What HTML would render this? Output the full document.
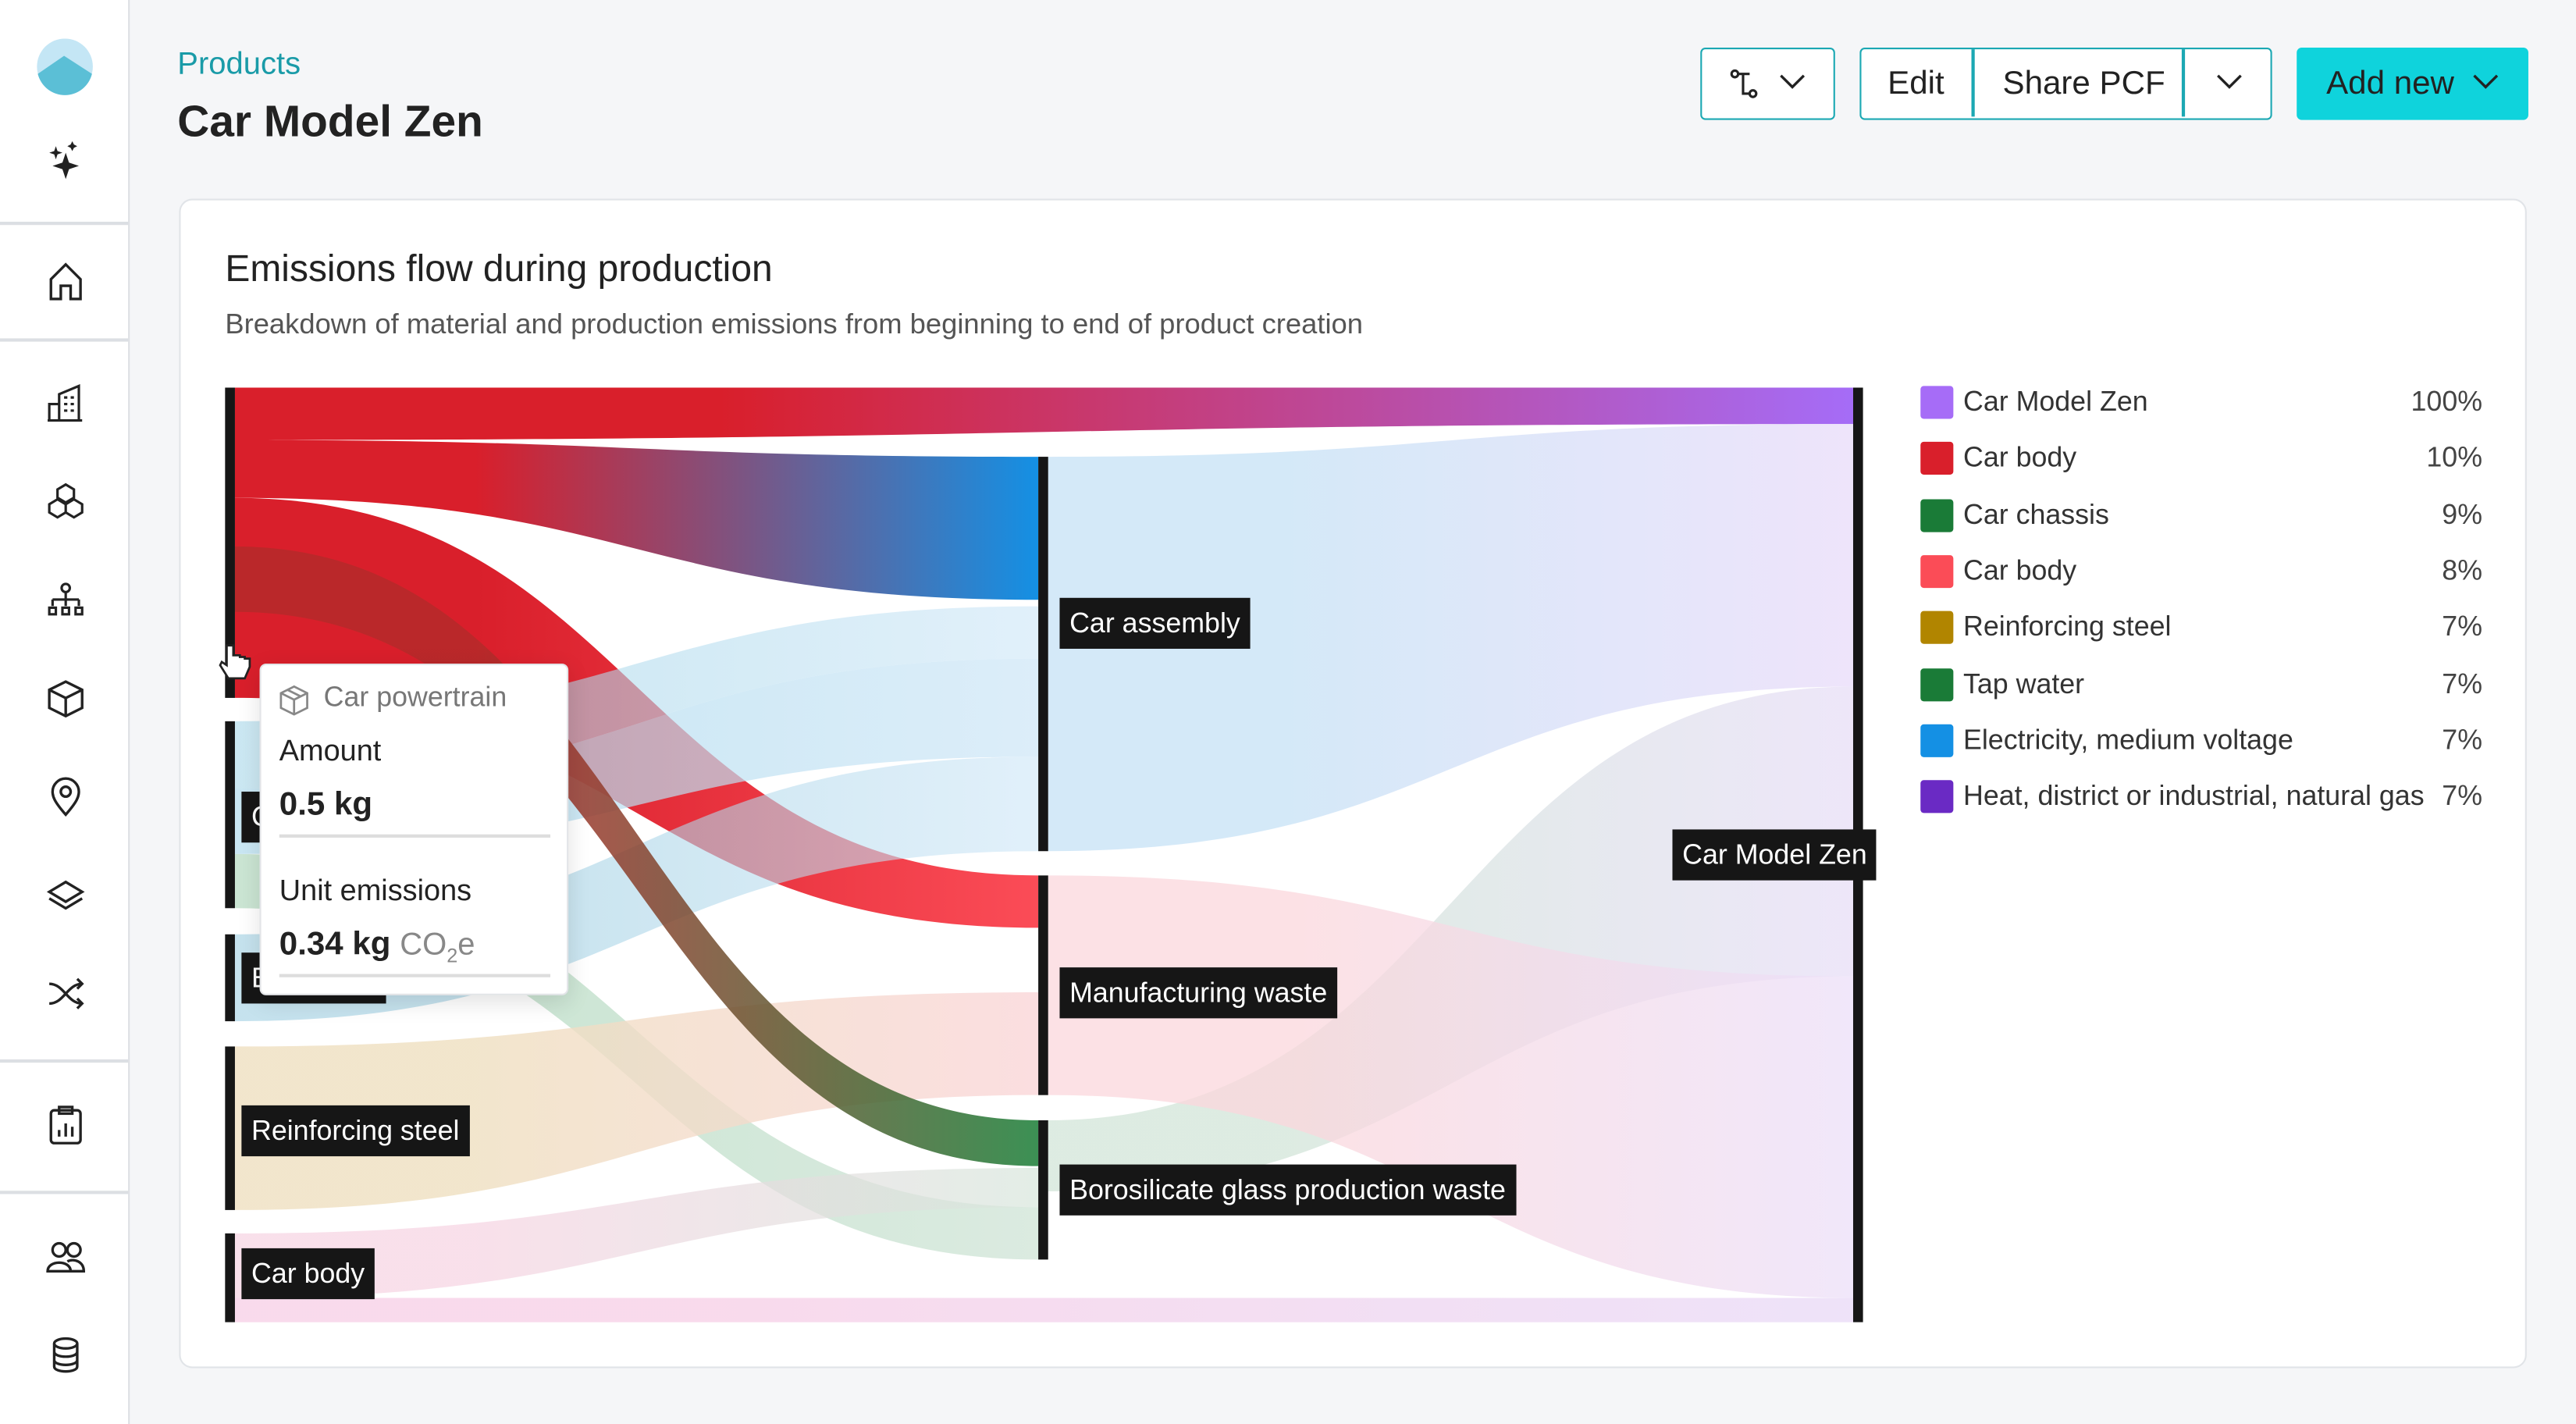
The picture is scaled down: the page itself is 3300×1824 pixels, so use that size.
<!DOCTYPE html>
<html><head><meta charset="utf-8">
<style>
html,body{margin:0;padding:0;width:3300px;height:1824px;overflow:hidden;background:#f5f6f8;font-family:"Liberation Sans",sans-serif;}
#stage{position:absolute;left:0;top:0;width:1568px;height:867px;transform:scale(2.10459,2.10381);transform-origin:0 0;background:#f5f6f8;color:#1e1e1e;}
.abs{position:absolute;}
#sidebar{left:0;top:0;width:78px;height:867px;background:#fff;border-right:1.5px solid #dcdfe3;}
.div{position:absolute;left:0;width:78px;height:1.5px;background:#dcdfe3;}
.ico{position:absolute;left:27px;width:26px;height:26px;}
.btn{position:absolute;top:29px;height:44px;box-sizing:border-box;border:1.5px solid #1ba8b3;background:#fff;border-radius:3px;font-size:20px;color:#222;}
.btn span{position:absolute;top:10px;}
#card{left:109px;top:121px;width:1429px;height:712px;background:#fff;border:1.5px solid #e1e4e8;border-radius:8px;box-sizing:border-box;}
.lbl{position:absolute;background:#161616;color:#fff;font-size:17px;height:31px;line-height:31px;padding:0 6px;white-space:nowrap;}
.leg{position:absolute;left:1169px;height:20px;width:342px;font-size:17px;color:#333;}
.leg .sw{position:absolute;left:0;top:0;width:20px;height:20px;border-radius:2px;}
.leg .t{position:absolute;left:26px;top:0;line-height:20px;}
.leg .p{position:absolute;right:0;top:0;line-height:20px;color:#444;}
</style></head><body>
<div id="stage">
<div id="sidebar" class="abs">
  <svg class="abs" style="left:22px;top:23px" width="35" height="35" viewBox="0 0 35 35"><circle cx="17.5" cy="17.5" r="17" fill="#c4e6f5"/><path d="M1 22 L17 11 L34 22 A17 17 0 0 1 1 22Z" fill="#5bbfd6"/></svg>
  <svg class="ico" style="top:84px" viewBox="0 0 26 26"><path d="M13 9 L15 15 L21 17 L15 19 L13 25 L11 19 L5 17 L11 15Z M7 5 L8 8 L11 9 L8 10 L7 13 L6 10 L3 9 L6 8Z M17 2 L18 4 L20 5 L18 6 L17 8 L16 6 L14 5 L16 4Z" fill="#222"/></svg>
  <div class="div" style="top:135px"></div>
  <svg class="ico" style="top:158px" viewBox="0 0 26 26" fill="none" stroke="#222" stroke-width="1.6"><path d="M4 12 L13 3 L22 12 V24 H16 V16 H10 V24 H4Z"/></svg>
  <div class="div" style="top:206px"></div>
  <svg class="ico" style="top:232px" viewBox="0 0 26 26" fill="none" stroke="#222" stroke-width="1.5"><path d="M3 24 V14 H9 V24 M9 24 V8 L21 3 V24 M2 24 H23 M12 10h2 M16 10h2 M12 14h2 M16 14h2 M12 18h2 M16 18h2"/></svg>
  <svg class="ico" style="top:292px" viewBox="0 0 26 26" fill="none" stroke="#222" stroke-width="1.5"><path d="M13 3 L18 6 V11 L13 14 L8 11 V6Z M8 12 L13 15 V20 L8 23 L3 20 V15Z M18 12 L23 15 V20 L18 23 L13 20 V15Z"/></svg>
  <svg class="ico" style="top:352px" viewBox="0 0 26 26" fill="none" stroke="#222" stroke-width="1.5"><circle cx="13" cy="6" r="2.5"/><path d="M13 9 V13 M5 13 H21 M5 13 V17 M13 13 V17 M21 13 V17"/><rect x="3" y="18" width="4" height="4"/><rect x="11" y="18" width="4" height="4"/><rect x="19" y="18" width="4" height="4"/></svg>
  <svg class="ico" style="top:412px" viewBox="0 0 26 26" fill="none" stroke="#222" stroke-width="1.6"><path d="M13 3 L23 8 V19 L13 24 L3 19 V8Z M3 8 L13 13 L23 8 M13 13 V24"/></svg>
  <svg class="ico" style="top:472px" viewBox="0 0 26 26" fill="none" stroke="#222" stroke-width="1.6"><path d="M13 24 C6 16 5 13 5 10 A8 8 0 0 1 21 10 C21 13 20 16 13 24Z"/><circle cx="13" cy="10" r="3"/></svg>
  <svg class="ico" style="top:532px" viewBox="0 0 26 26" fill="none" stroke="#222" stroke-width="1.6"><path d="M13 5 L23 11 L13 17 L3 11Z M3 15 L13 21 L23 15"/></svg>
  <svg class="ico" style="top:592px" viewBox="0 0 26 26" fill="none" stroke="#222" stroke-width="1.6"><path d="M3 7 C12 7 14 19 23 19 M3 19 C12 19 14 7 23 7 M20 4 L23 7 L20 10 M20 16 L23 19 L20 22"/></svg>
  <div class="div" style="top:645px"></div>
  <svg class="ico" style="top:672px" viewBox="0 0 26 26" fill="none" stroke="#222" stroke-width="1.6"><rect x="4" y="4" width="18" height="20" rx="2"/><rect x="9" y="2" width="8" height="4"/><path d="M9 20 V16 M13 20 V12 M17 20 V14"/></svg>
  <div class="div" style="top:725px"></div>
  <svg class="ico" style="top:752px" viewBox="0 0 26 26" fill="none" stroke="#222" stroke-width="1.6"><circle cx="9" cy="9" r="4"/><circle cx="18" cy="9" r="4"/><path d="M2 22 C2 15 16 15 16 22Z M14 16 C18 14 24 16 24 22 H16"/></svg>
  <svg class="ico" style="top:812px" viewBox="0 0 26 26" fill="none" stroke="#222" stroke-width="1.6"><ellipse cx="13" cy="6" rx="7" ry="3"/><path d="M6 6 V20 C6 24 20 24 20 20 V6 M6 11 C6 15 20 15 20 11 M6 16 C6 20 20 20 20 16"/></svg>
</div>

<div class="abs" style="left:108px;top:29px;font-size:19px;color:#1a9ba8">Products</div>
<div class="abs" style="left:108px;top:59px;font-size:27px;font-weight:bold;color:#222">Car Model Zen</div>

<div class="btn" style="left:1035px;width:82px">
  <svg class="abs" style="left:16px;top:11px" width="20" height="20" viewBox="0 0 20 20" fill="none" stroke="#222" stroke-width="1.5"><circle cx="4" cy="4" r="2"/><circle cx="15" cy="16" r="2"/><path d="M6 4 H13 M9 4 V16 H13"/></svg>
  <svg class="abs" style="left:46px;top:14px" width="18" height="12" viewBox="0 0 18 12" fill="none" stroke="#222" stroke-width="1.6"><path d="M2 2 L9 9 L16 2"/></svg>
</div>
<div class="btn" style="left:1132px;width:251px">
  <span style="left:16px">Edit</span>
  <div class="abs" style="left:67px;top:0;width:1.5px;height:41px;background:#1ba8b3"></div>
  <span style="left:86px">Share PCF</span>
  <div class="abs" style="left:195px;top:0;width:1.5px;height:41px;background:#1ba8b3"></div>
  <svg class="abs" style="left:215px;top:14px" width="18" height="12" viewBox="0 0 18 12" fill="none" stroke="#222" stroke-width="1.6"><path d="M2 2 L9 9 L16 2"/></svg>
</div>
<div class="btn" style="left:1398px;width:141px;background:#0fd3dc;border-color:#0fd3dc">
  <span style="left:17px">Add new</span>
  <svg class="abs" style="left:105px;top:14px" width="18" height="12" viewBox="0 0 18 12" fill="none" stroke="#222" stroke-width="1.6"><path d="M2 2 L9 9 L16 2"/></svg>
</div>

<div id="card" class="abs"></div>
<div class="abs" style="left:137px;top:150px;font-size:22.8px;color:#222">Emissions flow during production</div>
<div class="abs" style="left:137px;top:187px;font-size:17.3px;color:#555">Breakdown of material and production emissions from beginning to end of product creation</div>

<svg id="sankey" class="abs" style="left:0;top:0" width="1568" height="867"><defs id="defs"></defs></svg>

<div class="lbl" style="left:645px;top:364px">Car assembly</div>
<div class="lbl" style="left:645px;top:589px">Manufacturing waste</div>
<div class="lbl" style="left:645px;top:709px">Borosilicate glass production waste</div>
<div class="lbl" style="left:1018px;top:505px">Car Model Zen</div>
<div class="lbl" style="left:147px;top:673px">Reinforcing steel</div>
<div class="lbl" style="left:147px;top:760px">Car body</div>
<div class="lbl" style="left:147px;top:482px;width:20px">C</div>
<div class="lbl" style="left:147px;top:580px;width:76px">E</div>

<div class="abs" style="left:158px;top:404px;width:188px;height:202px;background:#fff;border:1.5px solid #e3e5e8;border-radius:4px;box-shadow:0 4px 14px rgba(0,0,0,.12);box-sizing:border-box">
  <svg class="abs" style="left:10px;top:11px" width="20" height="20" viewBox="0 0 20 20" fill="none" stroke="#888" stroke-width="1.3"><path d="M10 2 L18 6 V15 L10 19 L2 15 V6Z M2 6 L10 10 L18 6 M10 10 V19 M6 4 L14 8"/></svg>
  <div class="abs" style="left:38px;top:10px;font-size:17px;color:#777">Car powertrain</div>
  <div class="abs" style="left:11px;top:42px;font-size:18px;color:#222">Amount</div>
  <div class="abs" style="left:11px;top:74px;font-size:20px;font-weight:bold;color:#222">0.5 kg</div>
  <div class="abs" style="left:11px;top:103px;width:165px;height:1.5px;background:#ddd"></div>
  <div class="abs" style="left:11px;top:127px;font-size:18px;color:#222">Unit emissions</div>
  <div class="abs" style="left:11px;top:159px;font-size:20px;color:#222"><b>0.34 kg</b> <span style="color:#888;font-size:19px">CO<sub style="font-size:12px">2</sub>e</span></div>
  <div class="abs" style="left:11px;top:188px;width:165px;height:1.5px;background:#ddd"></div>
</div>
<svg class="abs" style="left:132px;top:391px" width="24" height="26" viewBox="0 0 24 26"><path d="M6 2 V14 L3 12 L2 14 L7 22 H17 L20 15 V10 H17 V9 H14 V8 H10 V2Z" fill="#fff" stroke="#222" stroke-width="1.3"/></svg>

<div id="legend"></div>
</div>
<script>
// Sankey values in percent of total height (0..100)
const nodeNames = ["Car powertrain","Car chassis","Electricity","Reinforcing steel","Car body","Car assembly","Manufacturing waste","Borosilicate glass production waste","Car Model Zen"];
const nodeColumn = [0,0,0,0,0,1,1,1,2];
const nodeStart = [0,35.7,58.5,70.5,90.5,7.4,52.2,78.4,0];
const nodeEnd   = [33.2,55.7,67.8,88.0,100,49.6,75.7,93.3,100];
const flowSource = [0,0,0,1,1,2,1,3,4,4,5,7,6,0];
const flowTarget = [8,5,6,5,5,5,7,6,7,8,8,8,8,7];
const flowSrcStart = [0,5.6,11.8,35.7,42.9,58.5,49.9,70.5,90.5,97.4,7.4,78.4,52.2,17.0];
const flowSrcEnd   = [5.6,11.8,33.2,42.9,49.9,67.8,55.7,88.0,97.4,100,49.6,86.0,75.7,24.0];
const flowTgtStart = [0,7.4,52.2,23.4,29.0,39.5,87.7,64.7,83.5,97.4,3.9,32.0,63.0,78.4];
const flowTgtEnd   = [3.9,22.7,57.8,29.0,39.5,49.6,93.3,75.7,87.7,100,32.0,63.0,97.4,83.3];
const flowFrom = ["#d91f2b","#d91f2b","#d91f2b","#a9d8ea","#b2dcee","#9fcfe2","#b9dcc4","#efdfc0","#f6d3e2","#f8d6ea","#cde5f7","#cfe3d6","#fbd7dc","#b52a2a"];
const flowTo   = ["#a56cf7","#1490e4","#fb4c57","#cde6f7","#cde6f7","#cde6f7","#cfe4d6","#fad6d8","#d7e6dc","#ecdff8","#ebdffa","#e6dcf6","#ecdff8","#1a7d36"];
const flowOpacity = [1,1,1,0.6,0.7,0.6,0.75,0.8,0.7,0.9,0.85,0.7,0.75,0.85];
const legendNames = ["Car Model Zen","Car body","Car chassis","Car body","Reinforcing steel","Tap water","Electricity, medium voltage","Heat, district or industrial, natural gas"];
const legendPct = ["100%","10%","9%","8%","7%","7%","7%","7%"];
const legendColors = ["#a66cf7","#d91f2b","#1a7b37","#fb4c57","#b18500","#1a7b37","#1490e4","#6a2ac4"];

const Y0=236, Y1=805;
const yScale = v => Y0 + (Y1-Y0)*v/100;
const colX = [137,632,1128];
const NODE_W = 6;
const NS="http://www.w3.org/2000/svg";
const svg=document.getElementById('sankey'), defs=document.getElementById('defs');

flowSource.forEach((s,i)=>{
  const t=flowTarget[i];
  const sx=colX[nodeColumn[s]]+NODE_W, tx=colX[nodeColumn[t]];
  const a0=yScale(flowSrcStart[i]), a1=yScale(flowSrcEnd[i]), b0=yScale(flowTgtStart[i]), b1=yScale(flowTgtEnd[i]);
  const mx=(sx+tx)/2;
  const g=document.createElementNS(NS,'linearGradient');
  g.setAttribute('id','fg'+i);g.setAttribute('gradientUnits','userSpaceOnUse');
  g.setAttribute('x1',sx);g.setAttribute('x2',tx);g.setAttribute('y1',0);g.setAttribute('y2',0);
  [[0,flowFrom[i]],[0.3,flowFrom[i]],[1,flowTo[i]]].forEach(([o,c])=>{const st=document.createElementNS(NS,'stop');st.setAttribute('offset',o);st.setAttribute('stop-color',c);g.appendChild(st);});
  defs.appendChild(g);
  const p=document.createElementNS(NS,'path');
  p.setAttribute('d',`M${sx} ${a0} C${mx} ${a0} ${mx} ${b0} ${tx} ${b0} L${tx} ${b1} C${mx} ${b1} ${mx} ${a1} ${sx} ${a1}Z`);
  p.setAttribute('fill','url(#fg'+i+')');p.setAttribute('fill-opacity',flowOpacity[i]);
  
  
  svg.appendChild(p);
});
nodeNames.forEach((n,i)=>{
  const r=document.createElementNS(NS,'rect');
  r.setAttribute('x',colX[nodeColumn[i]]);r.setAttribute('y',yScale(nodeStart[i]));
  r.setAttribute('width',NODE_W);r.setAttribute('height',yScale(nodeEnd[i])-yScale(nodeStart[i]));
  r.setAttribute('fill','#161616');
  
  
  svg.appendChild(r);
});
const leg=document.getElementById('legend');
legendNames.forEach((n,i)=>{
  const d=document.createElement('div');d.className='leg';d.style.top=(235+34.3*i)+'px';
  
  
  d.innerHTML=`<div class="sw" style="background:${legendColors[i]}"></div><div class="t">${n}</div><div class="p">${legendPct[i]}</div>`;
  leg.appendChild(d);
});
</script>
</body></html>
